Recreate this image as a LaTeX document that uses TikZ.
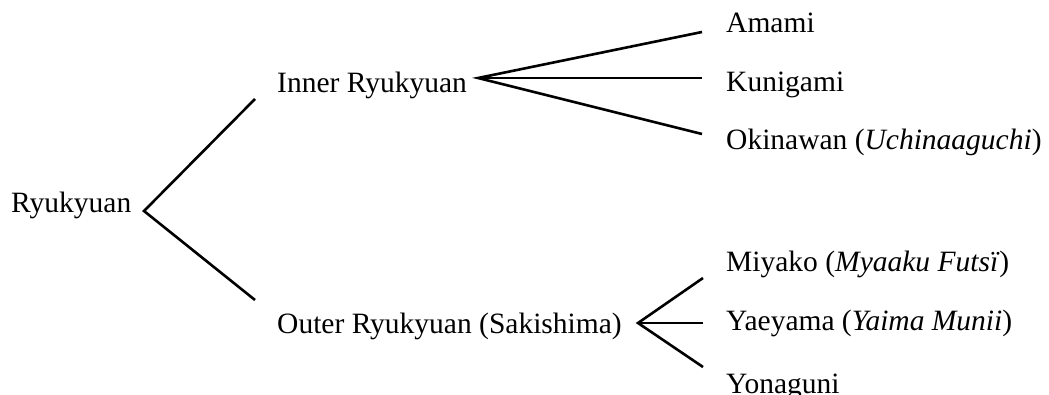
\documentclass[tikz,border=0pt]{standalone}
\usepackage{fontspec}
\setmainfont{Liberation Serif}
\begin{document}
\begin{tikzpicture}[x=1pt,y=-1pt,
  label/.style={anchor=base west,inner sep=0pt,font=\fontsize{29.5pt}{34pt}\selectfont},
  branch/.style={line width=2.6pt,line join=miter,line cap=butt}]
\useasboundingbox (0,0) rectangle (1049,395);

% language names
\node[label] (ryu)   at (11,213)  {Ryukyuan};
\node[label] (inner) at (277,93)  {Inner Ryukyuan};
\node[label] (outer) at (277,333) {Outer Ryukyuan (Sakishima)};
\node[label] (amami) at (726,33)  {Amami};
\node[label] (kuni)  at (726,92)  {Kunigami};
\node[label] (oki)   at (726,150) {Okinawan (\textit{Uchinaaguchi})};
\node[label] (miya)  at (726,272) {Miyako (\textit{Myaaku Futsï})};
\node[label] (yae)   at (726,330) {Yaeyama (\textit{Yaima Munii})};
\node[label] (yona)  at (726,393) {Yonaguni};

% branching points and branch ends
\coordinate (ryuV)   at (144,211);
\coordinate (innerE) at (255,99);
\coordinate (outerE) at (255,300);
\coordinate (innerV) at (478,78);
\coordinate (amamiE) at (702,32);
\coordinate (kuniE)  at (702,78);
\coordinate (okiE)   at (702,134);
\coordinate (outerV) at (638,323);
\coordinate (miyaE)  at (703,278);
\coordinate (yaeE)   at (703,323);
\coordinate (yonaE)  at (703,367);

% branches
\draw[branch] (innerE) -- (ryuV) -- (outerE);
\draw[branch] (amamiE) -- (innerV) -- (okiE);
\draw[branch] (innerV) -- (kuniE);
\draw[branch] (miyaE) -- (outerV) -- (yonaE);
\draw[branch] (outerV) -- (yaeE);
\end{tikzpicture}
\end{document}
